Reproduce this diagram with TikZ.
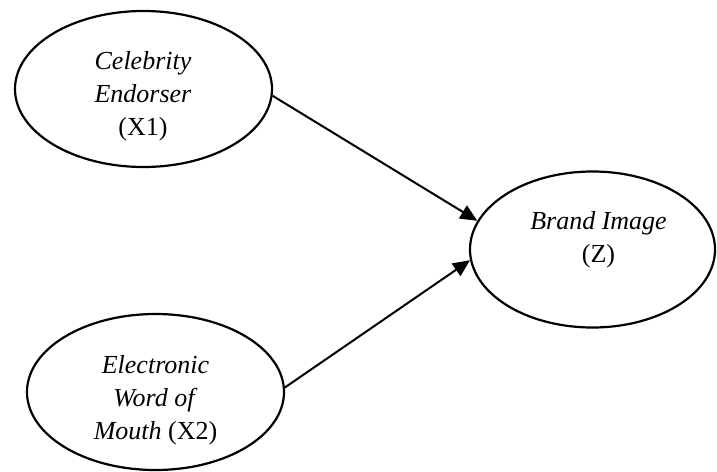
\documentclass[tikz,border=0pt]{standalone}
\usepackage{fontspec}
\setmainfont{Liberation Serif}
\usetikzlibrary{shapes.geometric}
\usetikzlibrary{arrows.meta,positioning}

\begin{document}
\begin{tikzpicture}[x=1pt,y=-1pt]
	\tikzstyle{latent}=[ellipse,draw=black,line width=2.2pt,minimum width=257pt,minimum height=156pt,inner sep=0pt]
	\tikzstyle{caption}=[align=center,font=\fontsize{26}{33}\selectfont,inner sep=0pt]
	\tikzstyle{link}=[-{Triangle[length=17pt,width=15pt]},line width=2pt]

	\useasboundingbox (0,0) rectangle (717,471);

	\node [latent] (x1) at (143.5,89)					{};
	\node [latent] (x2) at (155.5,392)					{};
	\node [latent,minimum width=245pt] (z) at (592.5,249.5)	{};

	\node [caption] (x1t) at (143,96)	{\textit{Celebrity}\\\textit{Endorser}\\(X1)};
	\node [caption] (x2t) at (155.5,400)	{\textit{Electronic}\\\textit{Word of}\\\textit{Mouth} (X2)};
	\node [caption] (zt) at (598.5,240)		{\textit{Brand Image}\\(Z)};

	\draw [link] (x1.-3) -- (z.166);
	\draw [link] (x2.2) -- (z.185);
\end{tikzpicture}
\end{document}
